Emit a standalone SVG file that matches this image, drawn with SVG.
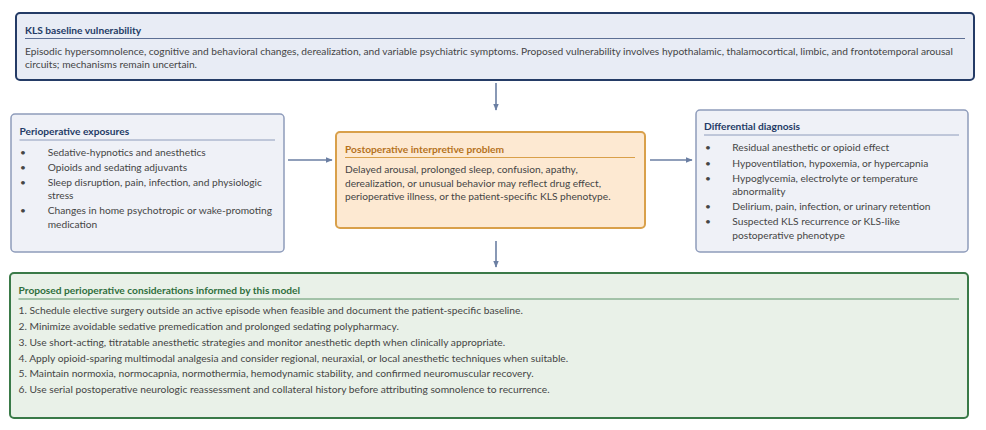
<svg xmlns="http://www.w3.org/2000/svg" width="986" height="430" viewBox="0 0 986 430">
<defs>
<marker id="arr" viewBox="0 0 10 10" refX="9" refY="5" markerWidth="7" markerHeight="7" markerUnits="userSpaceOnUse" orient="auto">
<path d="M0,1 L10,5 L0,9 z" fill="#6b7fa3"/>
</marker>
<style>
text{font-family:Lato,"Open Sans","Liberation Sans",sans-serif;}
.ttl{font-weight:bold;font-size:10.2px;}
.body{font-size:10.2px;fill:#454545;}
.bl{font-size:10.2px;fill:#454545;}
.sm{font-size:10.25px;fill:#454545;}
.navy{fill:#243b66;}
.conn line{stroke:#6b7fa3;stroke-width:1.6;marker-end:url(#arr);}
</style>
</defs>
<rect width="986" height="430" fill="#ffffff"/>

<g id="baseline">
<rect x="16" y="13" width="958" height="67" rx="4" fill="#e8ecf5" stroke="#243b66" stroke-width="2"/>
<text class="ttl navy" x="25" y="34">KLS baseline vulnerability</text>
<line x1="25" y1="38.5" x2="965" y2="38.5" stroke="#5d6f94" stroke-width="1"/>
<text class="body" x="25" y="55">Episodic hypersomnolence, cognitive and behavioral changes, derealization, and variable psychiatric symptoms. Proposed vulnerability involves hypothalamic, thalamocortical, limbic, and frontotemporal arousal</text>
<text class="body" x="25" y="68">circuits; mechanisms remain uncertain.</text>
</g>

<g id="exposures">
<rect x="11" y="114" width="273" height="138" rx="4" fill="#eff1f7" stroke="#8e9cbb" stroke-width="1.5"/>
<text class="ttl navy" x="19.5" y="135">Perioperative exposures</text>
<line x1="19.5" y1="140" x2="275" y2="140" stroke="#8e9cbb" stroke-width="1"/>
<g class="bl">
<text x="20" y="156">•</text><text x="47.7" y="156">Sedative-hypnotics and anesthetics</text>
<text x="20" y="170.7">•</text><text x="47.7" y="170.7">Opioids and sedating adjuvants</text>
<text x="20" y="186">•</text><text x="47.7" y="186">Sleep disruption, pain, infection, and physiologic</text>
<text x="47.7" y="199.3">stress</text>
<text x="20" y="214.3">•</text><text x="47.7" y="214.3">Changes in home psychotropic or wake-promoting</text>
<text x="47.7" y="227.7">medication</text>
</g>
</g>

<g id="problem">
<rect x="336" y="132" width="309" height="96" rx="4" fill="#fde9d2" stroke="#d9a04a" stroke-width="2"/>
<text class="ttl" x="345" y="153" fill="#b5721c">Postoperative interpretive problem</text>
<line x1="345" y1="157.5" x2="635" y2="157.5" stroke="#d9a04a" stroke-width="1"/>
<text class="bl" x="345" y="173">Delayed arousal, prolonged sleep, confusion, apathy,</text>
<text class="bl" x="345" y="186.5">derealization, or unusual behavior may reflect drug effect,</text>
<text class="bl" x="345" y="200">perioperative illness, or the patient-specific KLS phenotype.</text>
</g>

<g id="differential">
<rect x="696" y="110" width="272" height="142" rx="4" fill="#eff1f7" stroke="#8e9cbb" stroke-width="1.5"/>
<text class="ttl navy" x="704" y="130">Differential diagnosis</text>
<line x1="704" y1="135" x2="959" y2="135" stroke="#8e9cbb" stroke-width="1"/>
<g class="bl">
<text x="705" y="150.5">•</text><text x="732.3" y="150.5">Residual anesthetic or opioid effect</text>
<text x="705" y="166.5">•</text><text x="732.3" y="166.5">Hypoventilation, hypoxemia, or hypercapnia</text>
<text x="705" y="181.7">•</text><text x="732.3" y="181.7">Hypoglycemia, electrolyte or temperature</text>
<text x="732.3" y="194.5">abnormality</text>
<text x="705" y="210">•</text><text x="732.3" y="210">Delirium, pain, infection, or urinary retention</text>
<text x="705" y="225">•</text><text x="732.3" y="225">Suspected KLS recurrence or KLS-like</text>
<text x="732.3" y="238.5">postoperative phenotype</text>
</g>
</g>

<g id="considerations">
<rect x="10" y="273" width="958" height="145" rx="4" fill="#e9f1e8" stroke="#3a7a48" stroke-width="2"/>
<text class="ttl" x="18.5" y="294" fill="#2f6e3c">Proposed perioperative considerations informed by this model</text>
<line x1="18.5" y1="299" x2="959" y2="299" stroke="#5c9468" stroke-width="1"/>
<g class="sm">
<text x="18.5" y="314.3">1. Schedule elective surgery outside an active episode when feasible and document the patient-specific baseline.</text>
<text x="18.5" y="330">2. Minimize avoidable sedative premedication and prolonged sedating polypharmacy.</text>
<text x="18.5" y="346">3. Use short-acting, titratable anesthetic strategies and monitor anesthetic depth when clinically appropriate.</text>
<text x="18.5" y="361.7">4. Apply opioid-sparing multimodal analgesia and consider regional, neuraxial, or local anesthetic techniques when suitable.</text>
<text x="18.5" y="377.3">5. Maintain normoxia, normocapnia, normothermia, hemodynamic stability, and confirmed neuromuscular recovery.</text>
<text x="18.5" y="392.7">6. Use serial postoperative neurologic reassessment and collateral history before attributing somnolence to recurrence.</text>
</g>
</g>

<g id="connectors" class="conn">
<line x1="496" y1="83" x2="496" y2="110"/>
<line x1="288" y1="160" x2="332" y2="160"/>
<line x1="650" y1="160" x2="692" y2="160"/>
<line x1="496" y1="241" x2="496" y2="267"/>
</g>
</svg>
